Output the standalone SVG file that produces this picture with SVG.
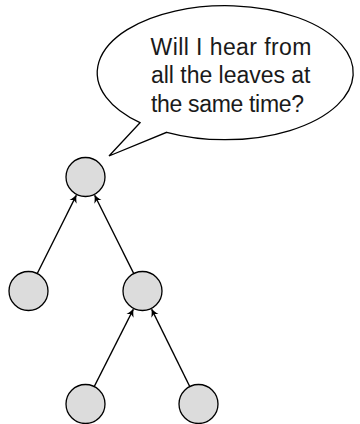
<svg xmlns="http://www.w3.org/2000/svg" width="360" height="424" viewBox="0 0 360 424">
<style>
.node{fill:#dcdcdc;stroke:#000;stroke-width:1.3}
.edge{stroke:#000;stroke-width:1.3;fill:none;marker-end:url(#arr)}
.bubble{fill:#fff;stroke:#000;stroke-width:1.3}
.t{font-family:"Liberation Sans",Arial,sans-serif;font-size:23px;fill:#1a1a1a}
</style>
<defs>
<marker id="arr" viewBox="-9 -5 10 10" markerWidth="10" markerHeight="10" refX="0" refY="0" orient="auto" markerUnits="userSpaceOnUse">
<path d="M0.6,0 C-2.5,-1 -5,-2.5 -7.2,-4 L-5.2,0 L-7.2,4 C-5,2.5 -2.5,1 0.6,0 Z" fill="#000"/>
</marker>
</defs>
<g id="bubble">
<path class="bubble" d="M140,122.7 L109,156 L166.7,132.3 A128,67 0 1 0 140,122.7 Z"/>
<text class="t" x="150.5" y="54.5" textLength="161" lengthAdjust="spacing">Will I hear from</text>
<text class="t" x="151" y="83" textLength="159.5" lengthAdjust="spacing">all the leaves at</text>
<text class="t" x="151" y="111.5" textLength="153" lengthAdjust="spacing">the same time?</text>
</g>
<g id="connectors">
<line class="edge" x1="37.2" y1="273.6" x2="76.3" y2="195.4"/>
<line class="edge" x1="133.8" y1="273.6" x2="94.7" y2="195.4"/>
<line class="edge" x1="94.2" y1="386.6" x2="133.3" y2="309.4"/>
<line class="edge" x1="189.8" y1="386.6" x2="151.7" y2="309.4"/>
</g>
<g id="root"><circle class="node" cx="85.5" cy="177" r="19.5"/></g>
<g id="left"><circle class="node" cx="28.5" cy="291" r="19.5"/></g>
<g id="right"><circle class="node" cx="142.5" cy="291" r="19.5"/></g>
<g id="leaf1"><circle class="node" cx="85.5" cy="404" r="19.5"/></g>
<g id="leaf2"><circle class="node" cx="198.5" cy="404" r="19.5"/></g>
</svg>
